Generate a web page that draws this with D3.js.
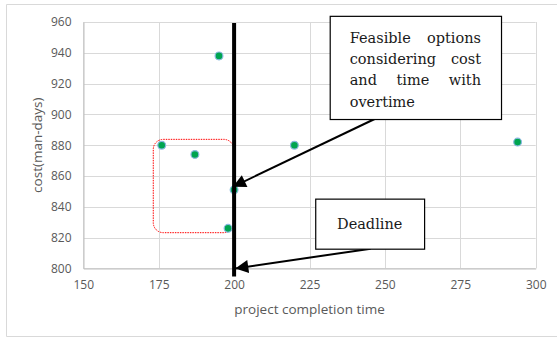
<!DOCTYPE html>
<html>
<head>
<meta charset="utf-8">
<script src="https://cdn.jsdelivr.net/npm/d3@7"></script>
<style>
  html, body { margin: 0; padding: 0; background: #ffffff; }
  svg { display: block; }
</style>
</head>
<body>
<svg id="chart" width="557" height="338"></svg>
<script>
// Project options: completion time vs. cost
const completionTime = [176, 187, 195, 200, 198, 220, 294];
const costManDays    = [880, 874, 938, 851, 826, 880, 882];

const xTicks = [150, 175, 200, 225, 250, 275, 300];
const yTicks = [800, 820, 840, 860, 880, 900, 920, 940, 960];

const deadline = 200;

const xTitle = "project completion time";
const yTitle = "cost(man-days)";

const feasibleNoteLines = ["Feasible options", "considering cost", "and time with", "overtime"];
const deadlineNote = "Deadline";

// Annotation anchors (data units)
const feasibleBox = { x0: 231.7, x1: 288.5, y0: 964, y1: 897 };
const feasibleArrow = { from: [246.6, 897], to: [199.6, 853] };
const deadlineBox = { x0: 226.9, x1: 263.0, y0: 845.3, y1: 812.8 };
const deadlineArrow = { from: [245.3, 812.8], to: [200.4, 800] };
const feasibleRegion = { x0: 173.2, x1: 199.9, y0: 883.8, y1: 823.2 };

const svg = d3.select("#chart");
const W = 557, H = 338;
const margin = { left: 83.3, right: 557 - 535.7, top: 22, bottom: 338 - 268.4 };

const x = d3.scaleLinear().domain([150, 300]).range([margin.left, W - margin.right]);
const y = d3.scaleLinear().domain([800, 960]).range([H - margin.bottom, margin.top]);

const labelFont = "'Open Sans', 'Liberation Sans', Arial, sans-serif";
const noteFont = "'DejaVu Serif', serif";
const textGrey = "#595959";
const gridGrey = "#d9d9d9";

// Chart area frame
svg.append("path")
  .attr("d", `M${W + 2},4.5 H6.5 V336.5 H${W + 2}`)
  .attr("fill", "none")
  .attr("stroke", gridGrey)
  .attr("stroke-width", 1);

// Gridlines
const grid = svg.append("g");
grid.selectAll("line.h").data(yTicks).join("line")
  .attr("x1", x(150)).attr("x2", x(300))
  .attr("y1", d => Math.round(y(d)) + 0.5).attr("y2", d => Math.round(y(d)) + 0.5)
  .attr("stroke", gridGrey).attr("stroke-width", 1);
grid.selectAll("line.v").data(xTicks).join("line")
  .attr("y1", y(800)).attr("y2", y(960))
  .attr("x1", d => Math.round(x(d)) + 0.5).attr("x2", d => Math.round(x(d)) + 0.5)
  .attr("stroke", gridGrey).attr("stroke-width", 1);

// Axes
const xAxis = d3.axisBottom(x).tickValues(xTicks).tickSize(0).tickPadding(12);
const yAxis = d3.axisLeft(y).tickValues(yTicks).tickSize(0).tickPadding(12);

const gx = svg.append("g").attr("transform", `translate(0,${Math.round(y(800)) + 0.5})`).call(xAxis);
const gy = svg.append("g").attr("transform", `translate(${Math.round(x(150)) + 0.5},0)`).call(yAxis);
[gx, gy].forEach(g => {
  g.select(".domain").attr("stroke", "#bfbfbf");
  g.selectAll("text").attr("fill", textGrey).style("font-family", labelFont).style("font-size", "12px");
});

// Axis titles
svg.append("text")
  .attr("x", (x(150) + x(300)) / 2).attr("y", 314)
  .attr("text-anchor", "middle")
  .attr("fill", textGrey)
  .style("font-family", labelFont).style("font-size", "13.5px")
  .text(xTitle);
svg.append("text")
  .attr("transform", `translate(42,${(y(800) + y(960)) / 2}) rotate(-90)`)
  .attr("text-anchor", "middle")
  .attr("fill", textGrey)
  .style("font-family", labelFont).style("font-size", "13.5px")
  .text(yTitle);

// Feasible region outline
svg.append("rect")
  .attr("x", x(feasibleRegion.x0)).attr("y", y(feasibleRegion.y0))
  .attr("width", x(feasibleRegion.x1) - x(feasibleRegion.x0))
  .attr("height", y(feasibleRegion.y1) - y(feasibleRegion.y0))
  .attr("rx", 10).attr("ry", 10)
  .attr("fill", "none")
  .attr("stroke", "#ff0000")
  .attr("stroke-width", 1)
  .attr("stroke-dasharray", "1.5,1");

// Data points
svg.append("g").selectAll("circle")
  .data(completionTime.map((t, i) => ({ t, c: costManDays[i] })))
  .join("circle")
  .attr("cx", d => x(d.t)).attr("cy", d => y(d.c))
  .attr("r", 3.9)
  .attr("fill", "#00a550")
  .attr("stroke", "#8ab8e0")
  .attr("stroke-width", 1.2);

// Deadline line
svg.append("line")
  .attr("x1", x(deadline)).attr("x2", x(deadline))
  .attr("y1", y(960) + 1).attr("y2", y(800) + 8)
  .attr("stroke", "#000").attr("stroke-width", 4);

// Arrow marker
svg.append("defs").append("marker")
  .attr("id", "head")
  .attr("viewBox", "0 0 10 10")
  .attr("refX", 10).attr("refY", 5)
  .attr("markerUnits", "userSpaceOnUse")
  .attr("markerWidth", 16).attr("markerHeight", 13)
  .attr("orient", "auto")
  .append("path").attr("d", "M0,0 L10,5 L0,10 Z").attr("fill", "#000");

function arrow(a) {
  svg.append("line")
    .attr("x1", x(a.from[0])).attr("y1", y(a.from[1]))
    .attr("x2", x(a.to[0])).attr("y2", y(a.to[1]))
    .attr("stroke", "#000").attr("stroke-width", 2)
    .attr("marker-end", "url(#head)");
}
arrow(feasibleArrow);
arrow(deadlineArrow);

function box(b) {
  return svg.append("rect")
    .attr("x", x(b.x0) + 0.5).attr("y", y(b.y0) + 0.5)
    .attr("width", x(b.x1) - x(b.x0)).attr("height", y(b.y1) - y(b.y0))
    .attr("fill", "#fff").attr("stroke", "#000").attr("stroke-width", 1.2);
}

// Feasible-options note with justified lines
box(feasibleBox);
const noteLeft = x(feasibleBox.x0) + 20, noteRight = x(feasibleBox.x1) - 20;
const noteG = svg.append("g");
feasibleNoteLines.forEach((line, i) => {
  const words = line.split(" ");
  const base = y(feasibleBox.y0) + 27 + i * 21.3;
  const isLast = i === feasibleNoteLines.length - 1;
  const tmp = words.map(w => noteG.append("text")
    .attr("y", base)
    .style("font-family", noteFont).style("font-size", "14.5px")
    .attr("fill", "#1a1a1a").text(w));
  const widths = tmp.map(t => t.node().getComputedTextLength());
  const total = d3.sum(widths);
  const gap = (!isLast && words.length > 1)
    ? (noteRight - noteLeft - total) / (words.length - 1)
    : 5;
  let cx = noteLeft;
  tmp.forEach((t, k) => { t.attr("x", cx); cx += widths[k] + gap; });
});

// Deadline note
box(deadlineBox);
svg.append("text")
  .attr("x", (x(deadlineBox.x0) + x(deadlineBox.x1)) / 2)
  .attr("y", (y(deadlineBox.y0) + y(deadlineBox.y1)) / 2 + 5.5)
  .attr("text-anchor", "middle")
  .style("font-family", noteFont).style("font-size", "14.5px")
  .attr("fill", "#1a1a1a")
  .text(deadlineNote);
</script>
</body>
</html>
